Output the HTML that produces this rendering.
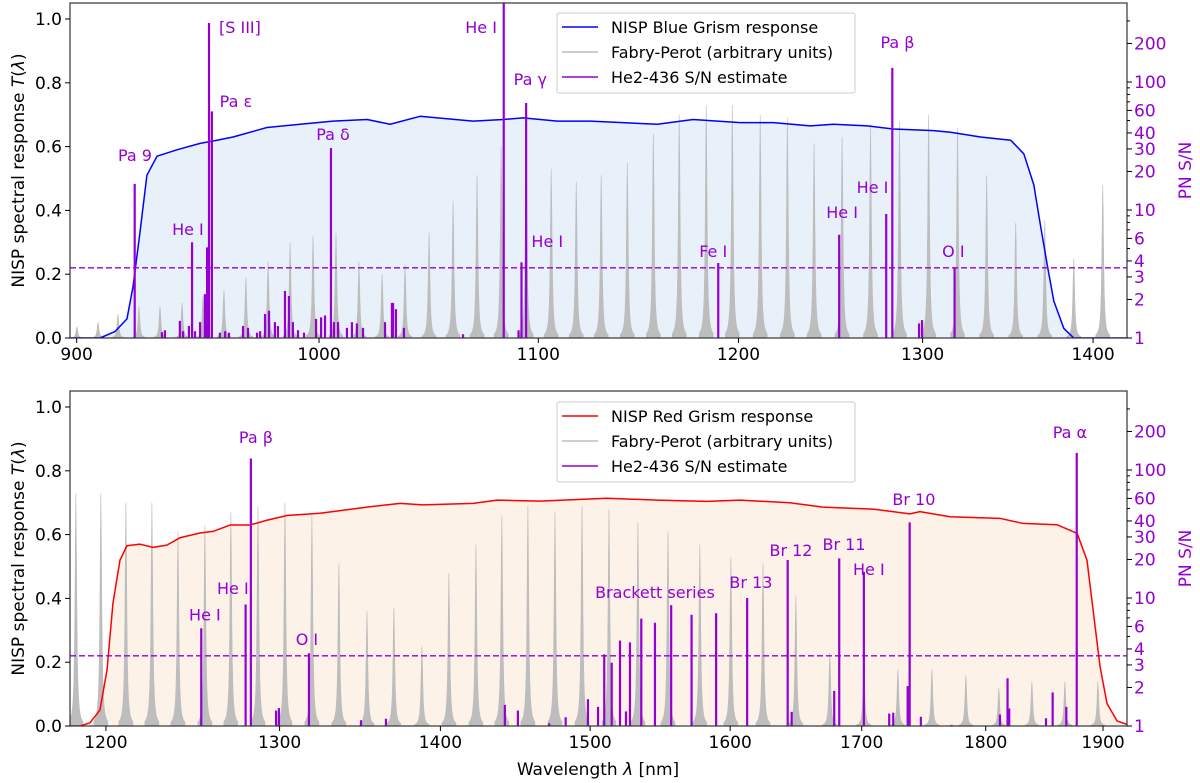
<!DOCTYPE html>
<html><head><meta charset="utf-8">
<style>
html,body{margin:0;padding:0;background:#fff;}
svg{display:block;font-family:"DejaVu Sans","Liberation Sans",sans-serif;}
</style></head>
<body>
<svg id="fig" width="1200" height="783" viewBox="0 0 1200 783" xmlns="http://www.w3.org/2000/svg"></svg>
<script>
// ---------- TOP PANEL DATA (Blue grism) ----------
const topRespNm=[897.4,909.2,915.1,919.9,922.3,925.1,927.9,932.0,940.1,949.6,956.6,963.3,977.7,991.8,1006.1,1021.1,1031.4,1044.9,1069.2,1083.4,1092.8,1109.1,1125.2,1158.4,1176.6,1200.9,1218.5,1238.0,1250.5,1269.2,1283.7,1306.2,1315.9,1333.2,1350.8,1358.5,1364.4,1368.6,1372.7,1376.3,1382.3,1388.3,1420.8];
const topRespT=[0,0,0.02,0.06,0.16,0.33,0.51,0.57,0.59,0.61,0.62,0.63,0.66,0.67,0.68,0.685,0.67,0.695,0.68,0.685,0.69,0.68,0.68,0.67,0.685,0.675,0.675,0.665,0.67,0.665,0.655,0.65,0.645,0.63,0.62,0.577,0.48,0.345,0.22,0.116,0.03,0,0];
const topFpNm=[900.1,908.4,916.3,924.7,933.2,942.2,950.8,959.5,968.7,978.1,987.5,997.4,1007.4,1017.5,1027.8,1038.1,1049.0,1060.0,1071.1,1082.4,1094.2,1106.2,1118.3,1130.5,1143.4,1156.4,1169.5,1183.3,1196.8,1211.4,1225.8,1240.1,1255.3,1270.9,1287.0,1303.4,1319.9,1336.7,1353.7,1370.9,1388.3,1405.9];
const topFpH=[0.035,0.05,0.075,0.10,0.10,0.11,0.13,0.15,0.19,0.24,0.30,0.32,0.33,0.24,0.20,0.23,0.33,0.43,0.51,0.60,0.60,0.53,0.49,0.51,0.55,0.64,0.70,0.73,0.73,0.70,0.69,0.61,0.63,0.67,0.68,0.70,0.66,0.51,0.36,0.37,0.25,0.48];
const topSnNm=[923.0,946.3,953.3,954.5,952.5,951.6,1005.2,1083.6,1094.2,1092.0,1189.5,1253.7,1279.6,1283.0,1318.2,1298.0,1299.7,934.0,935.2,941.3,942.6,945.0,947.5,949.6,957.8,960.0,961.6,967.5,969.6,973.4,974.7,976.8,978.5,981.0,982.3,985.3,987.0,988.7,990.9,993.5,998.7,1000.9,1002.6,1006.5,1008.3,1012.2,1014.4,1016.6,1019.3,1029.1,1032.2,1032.7,1034.0,1037.6,1064.6,1090.6];
const topSnVal=[16,5.6,289,59,5.1,2.2,30.5,500,68.5,3.9,3.85,6.4,9.3,129,3.5,1.3,1.38,1.11,1.15,1.36,1.13,1.24,1.13,1.33,1.1,1.13,1.1,1.24,1.2,1.1,1.13,1.54,1.63,1.33,1.24,2.33,2.13,1.33,1.15,1.1,1.41,1.45,1.5,1.33,1.33,1.2,1.33,1.3,1.2,1.33,1.88,1.88,1.68,1.2,1.07,1.15];
const topLabels=["Pa 9","He I","[S III]","Pa ε","Pa δ","He I","Pa γ","He I","Fe I","Pa β","He I","He I","O I"];
const topLabelNm=[923.1,944.6,966.2,964.5,1006.1,1073.0,1096.2,1104.3,1186.9,1285.9,1272.0,1255.3,1317.5];
const topLabelSn=[24.1,6.4,241,63.8,35.2,241,94.8,5.14,4.29,184,13.6,8.66,4.29];

// ---------- BOTTOM PANEL DATA (Red grism) ----------
const botRespNm=[1180.3,1185.7,1191.2,1196.7,1200.6,1203.9,1207.8,1211.7,1219.0,1226.3,1234.2,1241.6,1253.1,1260.7,1270.6,1282.3,1292.4,1304.4,1324.4,1353.4,1374.2,1388.9,1421.3,1437.0,1465.7,1511.7,1546.9,1583.0,1607.2,1644.6,1669.9,1708.8,1738.2,1746.2,1770.6,1811.8,1831.1,1860.0,1877.4,1886.0,1891.3,1897.4,1903.5,1912.3,1921.1];
const botRespT=[0,0,0.01,0.05,0.175,0.385,0.52,0.565,0.57,0.56,0.567,0.59,0.605,0.61,0.63,0.63,0.645,0.66,0.667,0.686,0.698,0.693,0.698,0.708,0.705,0.714,0.708,0.704,0.708,0.70,0.686,0.68,0.665,0.672,0.656,0.651,0.635,0.631,0.604,0.52,0.364,0.186,0.07,0.016,0.005];
const botFpNm=[1183.5,1197.2,1211.1,1225.7,1240.5,1256.0,1271.1,1287.1,1303.2,1319.5,1336.0,1353.4,1370.3,1388.1,1405.5,1423.1,1440.2,1457.6,1475.9,1494.4,1513.1,1533.4,1554.8,1577.8,1600.5,1624.4,1649.2,1675.2,1701.7,1728.6,1755.9,1783.6,1810.9,1838.7,1866.9,1895.5];
const botFpH=[0.73,0.73,0.70,0.70,0.61,0.63,0.67,0.69,0.70,0.66,0.51,0.36,0.37,0.25,0.48,0.57,0.66,0.69,0.67,0.69,0.68,0.64,0.61,0.57,0.53,0.51,0.41,0.23,0.20,0.18,0.18,0.16,0.12,0.14,0.14,0.14];
const botSnNm=[1253.9,1279.8,1282.9,1317.7,1297.9,1299.6,1349.7,1365.3,1442.2,1450.9,1472.0,1483.2,1498.5,1505.5,1509.8,1515.0,1520.8,1525.0,1527.8,1535.8,1545.5,1557.1,1571.8,1589.7,1612.6,1643.0,1646.0,1678.6,1682.5,1701.7,1721.7,1724.9,1736.4,1738.0,1747.0,1771.9,1811.8,1818.2,1819.6,1850.7,1856.4,1868.1,1877.1];
const botSnVal=[5.8,8.9,123,3.7,1.32,1.38,1.11,1.14,1.46,1.32,1.05,1.17,1.62,1.41,3.63,3.12,4.64,1.3,4.5,6.9,6.4,8.8,7.4,7.6,10.0,19.8,1.29,1.88,20.4,16.0,1.25,1.27,2.05,39,1.18,1.02,1.23,2.36,1.37,1.15,1.83,1.41,136];
const botLabels=["He I","He I","Pa β","O I","Brackett series","Br 13","Br 12","Br 11","He I","Br 10","Pa α"];
const botLabelNm=[1256.0,1272.3,1285.9,1316.5,1545.5,1615.4,1645.5,1686.2,1705.6,1741.4,1871.2];
const botLabelSn=[6.7,10.7,162,4.29,10.0,12.0,21.3,23.7,15.1,53.3,178];

// ---------- AXIS TICKS ----------
const leftTicks=[0,0.2,0.4,0.6,0.8,1.0];
const leftTickLabels=["0.0","0.2","0.4","0.6","0.8","1.0"];
const rightMajor=[1,2,3,4,6,10,20,30,40,60,100,200];
const rightMinor=[5,7,8,9,50,70,80,90,300];
const topXTicks=[900,1000,1100,1200,1300,1400];
const botXTicks=[1200,1300,1400,1500,1600,1700,1800,1900];

const NS="http://www.w3.org/2000/svg";
const svg=document.getElementById('fig');
const PURPLE="#9400d3";
function mk(tag,attrs,parent){const e=document.createElementNS(NS,tag);for(const k in attrs)e.setAttribute(k,attrs[k]);(parent||svg).appendChild(e);return e;}

function panel(cfg){
  const L=70,R=1127,T=cfg.top,B=cfg.bottom;
  const lnMin=Math.log(cfg.xmin),lnMax=Math.log(cfg.xmax);
  const xs=nm=>L+(Math.log(nm)-lnMin)/(lnMax-lnMin)*(R-L);
  const yl=v=>B-v*319;
  const yr=s=>B-Math.log10(s)*128;
  const g=mk('g',{});
  
  
  const clipId='clip-'+cfg.name;
  const cp=mk('clipPath',{id:clipId},g);
  mk('rect',{x:L,y:T,width:R-L,height:B-T},cp);
  const plot=mk('g',{'clip-path':'url(#'+clipId+')'},g);
  let d='M'+xs(cfg.respNm[0])+','+B;
  let ld='';
  cfg.respNm.forEach((nm,i)=>{d+=' L'+xs(nm).toFixed(2)+','+yl(cfg.respT[i]).toFixed(2);ld+=(i?' L':'M')+xs(nm).toFixed(2)+','+yl(cfg.respT[i]).toFixed(2);});
  d+=' L'+xs(cfg.respNm[cfg.respNm.length-1])+','+B+' Z';
  const fill=mk('path',{d:d,fill:cfg.fill,stroke:'none'},plot);
  
  
  cfg.fpNm.forEach((nm,i)=>{
    const cx=xs(nm),h=cfg.fpH[i]*319;
    let p='M'+(cx-7)+','+B;
    for(let dx=-7;dx<=7;dx+=0.5){p+=' L'+(cx+dx).toFixed(2)+','+(B-h/(1+(dx/1.0)*(dx/1.0))).toFixed(2);}
    p+=' L'+(cx+7)+','+B+' Z';
    const pk=mk('path',{d:p,fill:'#bdbdbd',stroke:'#bdbdbd','stroke-width':0.6},plot);
    
    
  });
  const rl=mk('path',{d:ld,fill:'none',stroke:cfg.color,'stroke-width':1.5,'stroke-linejoin':'round'},plot);
  
  
  cfg.snNm.forEach((nm,i)=>{
    const x=xs(nm);
    const ln=mk('line',{x1:x,x2:x,y1:B,y2:yr(cfg.snVal[i]),stroke:PURPLE,'stroke-width':2.2},plot);
    
    
  });
  const dl=mk('line',{x1:L,x2:R,y1:yl(0.22),y2:yl(0.22),stroke:PURPLE,'stroke-width':1.4,'stroke-dasharray':'6,3'},plot);
  
  
  cfg.labels.forEach((t,i)=>{
    const tx=mk('text',{x:xs(cfg.labelNm[i]),y:yr(cfg.labelSn[i]),fill:PURPLE,'font-size':16,'text-anchor':'middle'},g);
    tx.textContent=t;
    
    
  });
  const fr=mk('rect',{x:L,y:T,width:R-L,height:B-T,fill:'none',stroke:'#333','stroke-width':1.2},g);
  
  
  leftTicks.forEach((v,i)=>{
    const y=yl(v);
    mk('line',{x1:L-5,x2:L,y1:y,y2:y,stroke:'#000','stroke-width':1},g);
    const tx=mk('text',{x:L-8,y:y+6,'font-size':17,'text-anchor':'end',fill:'#000'},g);
    tx.textContent=leftTickLabels[i];
    
    
  });
  rightMajor.forEach(v=>{
    const y=yr(v);
    mk('line',{x1:R,x2:R+5,y1:y,y2:y,stroke:'#000','stroke-width':1},g);
    const tx=mk('text',{x:R+7,y:y+6,'font-size':17,fill:PURPLE},g);
    tx.textContent=String(v);
    
    
  });
  rightMinor.forEach(v=>{const y=yr(v);mk('line',{x1:R,x2:R+3,y1:y,y2:y,stroke:'#000','stroke-width':1},g);});
  cfg.xTicks.forEach(v=>{
    const x=xs(v);
    mk('line',{x1:x,x2:x,y1:B,y2:B+5,stroke:'#000','stroke-width':1},g);
    const tx=mk('text',{x:x,y:B+22,'font-size':17,'text-anchor':'middle',fill:'#000'},g);
    tx.textContent=String(v);
    
    
  });
  const cy=(T+B)/2;
  const yt=mk('text',{x:0,y:0,'font-size':17,'text-anchor':'middle',fill:'#000',transform:'translate(24,'+cy+') rotate(-90)'},g);
  yt.innerHTML='NISP spectral response <tspan font-style="italic">T</tspan>(<tspan font-style="italic">λ</tspan>)';
  
  
  const rt=mk('text',{x:0,y:0,'font-size':17,'text-anchor':'middle',fill:PURPLE,transform:'translate(1191,'+cy+') rotate(-90)'},g);
  rt.textContent='PN S/N';
  
  
  const lg=mk('g',{},g);
  
  
  const ly=cfg.legendY;
  mk('rect',{x:557,y:ly,width:298,height:80,fill:'#fff','fill-opacity':0.85,stroke:'#ccc','stroke-width':1,rx:2},lg);
  const items=[[cfg.color,cfg.legendTitle],['#bdbdbd','Fabry-Perot (arbitrary units)'],[PURPLE,'He2-436 S/N estimate']];
  items.forEach((it,i)=>{
    const yy=ly+14+i*25;
    mk('line',{x1:562,x2:598,y1:yy,y2:yy,stroke:it[0],'stroke-width':1.6},lg);
    const tx=mk('text',{x:611,y:yy+6,'font-size':16,fill:'#000'},lg);
    tx.textContent=it[1];
    
    
  });
}

panel({name:'blue',top:3,bottom:338,xmin:897.4,xmax:1420.8,respNm:topRespNm,respT:topRespT,fpNm:topFpNm,fpH:topFpH,snNm:topSnNm,snVal:topSnVal,labels:topLabels,labelNm:topLabelNm,labelSn:topLabelSn,xTicks:topXTicks,color:'#0000ff',fill:'#e8f0f9',legendY:13,legendTitle:'NISP Blue Grism response'});
panel({name:'red',top:391,bottom:726,xmin:1180.3,xmax:1921.1,respNm:botRespNm,respT:botRespT,fpNm:botFpNm,fpH:botFpH,snNm:botSnNm,snVal:botSnVal,labels:botLabels,labelNm:botLabelNm,labelSn:botLabelSn,xTicks:botXTicks,color:'#ff0000',fill:'#fcf2e8',legendY:402,legendTitle:'NISP Red Grism response'});

const xl=mk('text',{x:598,y:775,'font-size':17,'text-anchor':'middle',fill:'#000'});
xl.innerHTML='Wavelength <tspan font-style="italic">λ</tspan> [nm]';


</script>
</body></html>
